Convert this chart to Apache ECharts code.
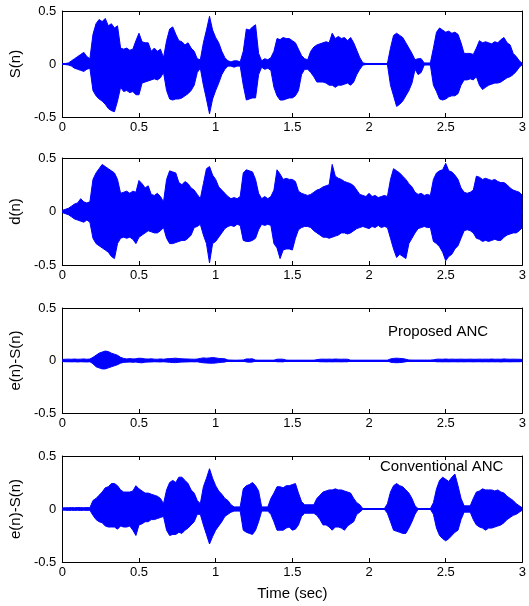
<!DOCTYPE html>
<html><head><meta charset="utf-8">
<script src="https://cdn.jsdelivr.net/npm/echarts@6/dist/echarts.min.js"></script>
<style>html,body{margin:0;padding:0;background:#fff}#c{width:529px;height:606px}</style>
</head><body><div id="c"></div>
<script>
// time samples (sec)
const T = [
0,0.02,0.04,0.06,0.08,0.1,0.12,0.14,0.16,0.18,
0.2,0.22,0.24,0.26,0.28,0.3,0.32,0.34,0.36,0.38,
0.4,0.42,0.44,0.46,0.48,0.5,0.52,0.54,0.56,0.58,
0.6,0.62,0.64,0.66,0.68,0.7,0.72,0.74,0.76,0.78,
0.8,0.82,0.84,0.86,0.88,0.9,0.92,0.94,0.96,0.98,
1,1.02,1.04,1.06,1.08,1.1,1.12,1.14,1.16,1.18,
1.2,1.22,1.24,1.26,1.28,1.3,1.32,1.34,1.36,1.38,
1.4,1.42,1.44,1.46,1.48,1.5,1.52,1.54,1.56,1.58,
1.6,1.62,1.64,1.66,1.68,1.7,1.72,1.74,1.76,1.78,
1.8,1.82,1.84,1.86,1.88,1.9,1.92,1.94,1.96,1.98,
2,2.02,2.04,2.06,2.08,2.1,2.12,2.14,2.16,2.18,
2.2,2.22,2.24,2.26,2.28,2.3,2.32,2.34,2.36,2.38,
2.4,2.42,2.44,2.46,2.48,2.5,2.52,2.54,2.56,2.58,
2.6,2.62,2.64,2.66,2.68,2.7,2.72,2.74,2.76,2.78,
2.8,2.82,2.84,2.86,2.88,2.9,2.92,2.94,2.96,2.98,
3];

// S(n) envelope (upper / lower)
const upS = [
0.005,0.005,0.01,0.03,0.05,0.07,0.09,0.11,0.07,0.05,
0.28,0.38,0.42,0.4,0.43,0.36,0.38,0.34,0.36,0.15,
0.14,0.15,0.13,0.14,0.22,0.29,0.21,0.2,0.2,0.12,
0.15,0.12,0.14,0.06,0.22,0.33,0.35,0.28,0.22,0.21,
0.18,0.2,0.15,0.12,0.05,0.04,0.2,0.32,0.45,0.32,
0.25,0.2,0.12,0.06,0.03,0.02,0.03,0.03,0.02,0.12,
0.33,0.32,0.35,0.37,0.1,0.03,0.05,0.04,0.06,0.12,
0.24,0.23,0.25,0.24,0.24,0.22,0.2,0.14,0.08,0.05,
0.04,0.12,0.16,0.18,0.19,0.2,0.21,0.2,0.29,0.24,
0.26,0.24,0.25,0.22,0.25,0.2,0.13,0.06,0.01,0.005,
0.005,0.005,0.005,0.005,0.005,0.005,0.005,0.15,0.27,0.29,
0.27,0.25,0.2,0.15,0.1,0.04,0.05,0.05,0.01,0.01,
0.01,0.15,0.3,0.34,0.32,0.3,0.31,0.29,0.3,0.28,
0.2,0.1,0.1,0.1,0.09,0.15,0.22,0.2,0.21,0.2,
0.19,0.21,0.2,0.23,0.25,0.2,0.18,0.1,0.07,0.03,
0.005];
const loS = [
-0.005,-0.005,-0.01,-0.02,-0.04,-0.05,-0.06,-0.07,-0.05,-0.04,
-0.25,-0.3,-0.33,-0.35,-0.38,-0.42,-0.44,-0.45,-0.35,-0.22,
-0.26,-0.25,-0.27,-0.26,-0.29,-0.29,-0.18,-0.17,-0.16,-0.15,
-0.14,-0.15,-0.13,-0.08,-0.25,-0.33,-0.34,-0.33,-0.33,-0.32,
-0.3,-0.28,-0.25,-0.2,-0.08,-0.04,-0.2,-0.33,-0.47,-0.33,
-0.25,-0.18,-0.1,-0.05,-0.02,-0.02,-0.03,-0.02,-0.02,-0.2,
-0.34,-0.33,-0.32,-0.32,-0.1,-0.03,-0.05,-0.04,-0.06,-0.22,
-0.3,-0.34,-0.34,-0.33,-0.32,-0.32,-0.3,-0.25,-0.1,-0.05,
-0.05,-0.08,-0.12,-0.17,-0.17,-0.17,-0.18,-0.2,-0.2,-0.22,
-0.2,-0.2,-0.19,-0.18,-0.2,-0.17,-0.1,-0.05,-0.01,-0.005,
-0.005,-0.005,-0.005,-0.005,-0.005,-0.005,-0.005,-0.2,-0.3,-0.4,
-0.38,-0.35,-0.3,-0.25,-0.18,-0.05,-0.1,-0.08,-0.01,-0.01,
-0.01,-0.2,-0.26,-0.33,-0.34,-0.33,-0.31,-0.3,-0.3,-0.28,
-0.2,-0.15,-0.15,-0.14,-0.15,-0.12,-0.2,-0.24,-0.22,-0.2,
-0.19,-0.18,-0.18,-0.17,-0.15,-0.13,-0.12,-0.1,-0.07,-0.03,
-0.005];

// d(n) envelope
const upD = [
0.01,0.02,0.03,0.05,0.07,0.08,0.12,0.09,0.08,0.09,
0.3,0.36,0.4,0.44,0.42,0.4,0.38,0.36,0.3,0.17,
0.18,0.19,0.17,0.19,0.18,0.29,0.26,0.22,0.24,0.16,
0.15,0.17,0.14,0.09,0.3,0.38,0.37,0.36,0.27,0.25,
0.28,0.26,0.22,0.2,0.16,0.12,0.26,0.4,0.42,0.34,
0.3,0.23,0.2,0.17,0.14,0.12,0.13,0.12,0.14,0.36,
0.39,0.38,0.37,0.3,0.17,0.12,0.14,0.12,0.14,0.2,
0.39,0.35,0.3,0.31,0.3,0.3,0.28,0.19,0.17,0.16,
0.15,0.16,0.18,0.2,0.21,0.23,0.24,0.25,0.44,0.33,
0.31,0.3,0.28,0.27,0.26,0.24,0.2,0.16,0.15,0.14,
0.17,0.14,0.15,0.13,0.14,0.15,0.14,0.3,0.4,0.38,
0.36,0.33,0.3,0.26,0.23,0.18,0.16,0.17,0.15,0.16,
0.15,0.3,0.36,0.38,0.39,0.45,0.38,0.37,0.34,0.3,
0.22,0.18,0.17,0.18,0.2,0.33,0.32,0.3,0.31,0.3,
0.29,0.3,0.28,0.27,0.27,0.25,0.22,0.2,0.19,0.18,
0.15];
const loD = [
-0.01,-0.02,-0.03,-0.05,-0.07,-0.08,-0.09,-0.1,-0.08,-0.1,
-0.25,-0.3,-0.32,-0.34,-0.36,-0.38,-0.42,-0.44,-0.3,-0.25,
-0.24,-0.25,-0.24,-0.26,-0.3,-0.24,-0.22,-0.2,-0.18,-0.19,
-0.2,-0.2,-0.18,-0.15,-0.25,-0.3,-0.3,-0.29,-0.28,-0.27,
-0.27,-0.25,-0.22,-0.15,-0.14,-0.12,-0.22,-0.3,-0.48,-0.3,
-0.28,-0.24,-0.2,-0.16,-0.14,-0.13,-0.14,-0.12,-0.13,-0.27,
-0.28,-0.28,-0.27,-0.25,-0.17,-0.12,-0.13,-0.12,-0.13,-0.3,
-0.34,-0.44,-0.36,-0.35,-0.35,-0.36,-0.25,-0.17,-0.15,-0.14,
-0.14,-0.15,-0.18,-0.2,-0.22,-0.24,-0.24,-0.25,-0.24,-0.23,
-0.22,-0.2,-0.2,-0.21,-0.2,-0.18,-0.16,-0.15,-0.14,-0.15,
-0.16,-0.14,-0.15,-0.13,-0.15,-0.14,-0.15,-0.25,-0.35,-0.43,
-0.4,-0.42,-0.44,-0.3,-0.25,-0.2,-0.16,-0.15,-0.14,-0.15,
-0.15,-0.28,-0.3,-0.33,-0.38,-0.46,-0.42,-0.4,-0.35,-0.32,
-0.25,-0.18,-0.17,-0.18,-0.2,-0.25,-0.26,-0.28,-0.27,-0.28,
-0.27,-0.26,-0.27,-0.27,-0.24,-0.22,-0.21,-0.2,-0.2,-0.18,
-0.15];

// e(n)-S(n), proposed ANC
const upP = [
0.01,0.012,0.013,0.012,0.014,0.012,0.013,0.015,0.012,0.014,
0.03,0.05,0.07,0.08,0.09,0.085,0.07,0.06,0.05,0.03,
0.02,0.015,0.018,0.015,0.016,0.022,0.02,0.015,0.014,0.016,
0.013,0.012,0.015,0.012,0.016,0.018,0.02,0.022,0.018,0.016,
0.015,0.014,0.013,0.012,0.014,0.02,0.025,0.022,0.025,0.028,
0.025,0.02,0.018,0.016,0.005,0.004,0.003,0.003,0.004,0.005,
0.015,0.015,0.016,0.004,0.003,0.003,0.003,0.003,0.003,0.003,
0.012,0.013,0.012,0.004,0.003,0.003,0.003,0.003,0.003,0.003,
0.003,0.003,0.003,0.008,0.012,0.013,0.012,0.013,0.012,0.014,
0.013,0.012,0.013,0.012,0.003,0.003,0.003,0.003,0.003,0.003,
0.003,0.003,0.003,0.003,0.003,0.003,0.003,0.015,0.02,0.022,
0.02,0.018,0.012,0.005,0.004,0.004,0.004,0.004,0.004,0.004,
0.004,0.006,0.012,0.013,0.012,0.014,0.012,0.013,0.012,0.012,
0.013,0.012,0.012,0.013,0.012,0.012,0.013,0.012,0.013,0.012,
0.014,0.012,0.013,0.012,0.015,0.013,0.012,0.013,0.012,0.012,
0.01];
const loP = [
-0.01,-0.012,-0.012,-0.013,-0.012,-0.014,-0.012,-0.013,-0.014,-0.012,
-0.03,-0.06,-0.07,-0.08,-0.08,-0.07,-0.06,-0.05,-0.04,-0.025,
-0.018,-0.016,-0.015,-0.017,-0.015,-0.02,-0.022,-0.016,-0.015,-0.014,
-0.012,-0.013,-0.014,-0.012,-0.015,-0.017,-0.02,-0.02,-0.017,-0.015,
-0.014,-0.013,-0.012,-0.013,-0.012,-0.018,-0.022,-0.024,-0.025,-0.026,
-0.024,-0.02,-0.017,-0.015,-0.005,-0.004,-0.003,-0.003,-0.004,-0.005,
-0.014,-0.016,-0.015,-0.004,-0.003,-0.003,-0.003,-0.003,-0.003,-0.003,
-0.012,-0.012,-0.013,-0.004,-0.003,-0.003,-0.003,-0.003,-0.003,-0.003,
-0.003,-0.003,-0.003,-0.008,-0.012,-0.012,-0.013,-0.012,-0.013,-0.012,
-0.012,-0.013,-0.012,-0.012,-0.003,-0.003,-0.003,-0.003,-0.003,-0.003,
-0.003,-0.003,-0.003,-0.003,-0.003,-0.003,-0.003,-0.016,-0.02,-0.021,
-0.02,-0.017,-0.012,-0.005,-0.004,-0.004,-0.004,-0.004,-0.004,-0.004,
-0.004,-0.006,-0.012,-0.012,-0.013,-0.012,-0.013,-0.012,-0.012,-0.013,
-0.012,-0.013,-0.012,-0.012,-0.013,-0.012,-0.012,-0.013,-0.012,-0.013,
-0.012,-0.013,-0.012,-0.014,-0.012,-0.012,-0.013,-0.012,-0.012,-0.012,
-0.01];

// e(n)-S(n), conventional ANC
const upC = [
0.01,0.012,0.012,0.013,0.012,0.014,0.013,0.012,0.014,0.012,
0.08,0.1,0.13,0.16,0.2,0.21,0.24,0.24,0.22,0.18,
0.16,0.16,0.16,0.17,0.22,0.19,0.17,0.15,0.15,0.14,
0.13,0.12,0.1,0.05,0.18,0.25,0.27,0.25,0.3,0.3,
0.27,0.24,0.18,0.15,0.08,0.05,0.21,0.29,0.38,0.29,
0.22,0.17,0.14,0.1,0.08,0.04,0.02,0.02,0.02,0.19,
0.22,0.23,0.25,0.22,0.17,0.02,0.02,0.02,0.1,0.15,
0.21,0.21,0.2,0.22,0.22,0.23,0.24,0.15,0.07,0.04,
0.04,0.04,0.04,0.1,0.13,0.16,0.17,0.18,0.18,0.19,
0.18,0.18,0.17,0.16,0.15,0.1,0.06,0.04,0.003,0.003,
0.003,0.003,0.003,0.003,0.003,0.003,0.05,0.16,0.22,0.24,
0.22,0.21,0.18,0.15,0.1,0.03,0.003,0.003,0.003,0.003,
0.003,0.06,0.19,0.27,0.3,0.28,0.26,0.3,0.33,0.22,
0.1,0.03,0.03,0.03,0.1,0.16,0.17,0.19,0.18,0.18,
0.18,0.17,0.18,0.16,0.15,0.12,0.1,0.08,0.05,0.03,
0.01];
const loC = [
-0.01,-0.012,-0.013,-0.012,-0.013,-0.012,-0.014,-0.012,-0.013,-0.012,
-0.06,-0.1,-0.12,-0.13,-0.16,-0.17,-0.17,-0.17,-0.19,-0.16,
-0.17,-0.17,-0.16,-0.2,-0.25,-0.15,-0.14,-0.12,-0.12,-0.1,
-0.1,-0.09,-0.08,-0.07,-0.2,-0.25,-0.24,-0.24,-0.22,-0.23,
-0.2,-0.18,-0.15,-0.12,-0.05,-0.05,-0.15,-0.24,-0.33,-0.26,
-0.2,-0.16,-0.12,-0.07,-0.05,-0.03,-0.02,-0.02,-0.02,-0.2,
-0.22,-0.23,-0.24,-0.2,-0.12,-0.02,-0.02,-0.02,-0.05,-0.12,
-0.2,-0.2,-0.2,-0.18,-0.17,-0.2,-0.19,-0.15,-0.07,-0.04,
-0.04,-0.04,-0.04,-0.06,-0.1,-0.15,-0.15,-0.17,-0.2,-0.17,
-0.17,-0.18,-0.2,-0.16,-0.14,-0.12,-0.05,-0.03,-0.003,-0.003,
-0.003,-0.003,-0.003,-0.003,-0.003,-0.003,-0.04,-0.12,-0.2,-0.21,
-0.22,-0.23,-0.23,-0.18,-0.12,-0.05,-0.003,-0.003,-0.003,-0.003,
-0.003,-0.05,-0.18,-0.25,-0.28,-0.3,-0.28,-0.25,-0.22,-0.2,
-0.1,-0.03,-0.03,-0.03,-0.1,-0.15,-0.17,-0.18,-0.2,-0.18,
-0.18,-0.17,-0.16,-0.15,-0.13,-0.1,-0.08,-0.06,-0.05,-0.03,
-0.01];

const yNames = ['S(n)', 'd(n)', 'e(n)-S(n)', 'e(n)-S(n)'];
const panels = [[upS, loS], [upD, loD], [upP, loP], [upC, loC]];
const xTicks = {min: 0, max: 3, interval: 0.5};
const yTicks = {min: -0.5, max: 0.5, interval: 0.5};
const notes = ['', '', 'Proposed ANC', 'Conventional ANC'];

const FONT = '"Liberation Sans", Arial, sans-serif';
const BLUE = '#0000ff';
const gridBoxes = [
  {top: 11, height: 106},
  {top: 158, height: 107},
  {top: 308, height: 105},
  {top: 456, height: 106}
];

const grid = [], xAxis = [], yAxis = [], series = [];
gridBoxes.forEach((g, i) => {
  grid.push({left: 61, width: 465, top: g.top, height: g.height, show: false});
  const tick = {show: true, inside: true, length: 4, lineStyle: {color: '#000', width: 1}};
  const line = {show: true, onZero: false, lineStyle: {color: '#000', width: 1}};
  xAxis.push({type: 'value', gridIndex: i, position: 'bottom', min: xTicks.min, max: xTicks.max, interval: xTicks.interval,
    axisLine: line, axisTick: tick, splitLine: {show: false},
    axisLabel: {show: true, color: '#000', fontFamily: FONT, fontSize: 13, margin: 4},
    name: i === 3 ? 'Time (sec)' : '', nameLocation: 'middle', nameGap: 24,
    nameTextStyle: {color: '#000', fontFamily: FONT, fontSize: 15}});
  xAxis.push({type: 'value', gridIndex: i, position: 'top', min: xTicks.min, max: xTicks.max, interval: xTicks.interval,
    axisLine: line, axisTick: tick, splitLine: {show: false}, axisLabel: {show: false}});
  yAxis.push({type: 'value', gridIndex: i, position: 'left', min: yTicks.min, max: yTicks.max, interval: yTicks.interval,
    axisLine: line, axisTick: tick, splitLine: {show: false},
    axisLabel: {show: true, color: '#000', fontFamily: FONT, fontSize: 13, margin: 6},
    name: yNames[i], nameLocation: 'middle', nameGap: 36, nameRotate: 90,
    nameTextStyle: {color: '#000', fontFamily: FONT, fontSize: 15}});
  yAxis.push({type: 'value', gridIndex: i, position: 'right', min: yTicks.min, max: yTicks.max, interval: yTicks.interval,
    axisLine: line, axisTick: tick, splitLine: {show: false}, axisLabel: {show: false}});
  const [up, lo] = panels[i];
  [up, lo].forEach((arr, j) => {
    const s = {type: 'line', xAxisIndex: 2 * i, yAxisIndex: 2 * i, symbol: 'none', silent: true,
      animation: false, z: 1,
      lineStyle: {color: BLUE, width: 1}, areaStyle: {color: BLUE, opacity: 1, origin: 0},
      data: T.map((t, k) => [t, arr[k]])};
    if (j === 0) {
      s.markLine = {silent: true, symbol: 'none', animation: false, label: {show: false},
        lineStyle: {color: BLUE, width: 2, type: 'solid'}, data: [{yAxis: 0}]};
    }
    series.push(s);
  });
});

const title = [
  {text: notes[2], left: 383, top: 319, textStyle: {color: '#000', fontFamily: FONT, fontSize: 15, fontWeight: 'normal'}},
  {text: notes[3], left: 375, top: 454, textStyle: {color: '#000', fontFamily: FONT, fontSize: 15, fontWeight: 'normal'}}
];

const chart = echarts.init(document.getElementById('c'), null, {renderer: 'canvas'});
chart.setOption({animation: false, backgroundColor: '#fff', title, grid, xAxis, yAxis, series});
</script>
</body></html>
